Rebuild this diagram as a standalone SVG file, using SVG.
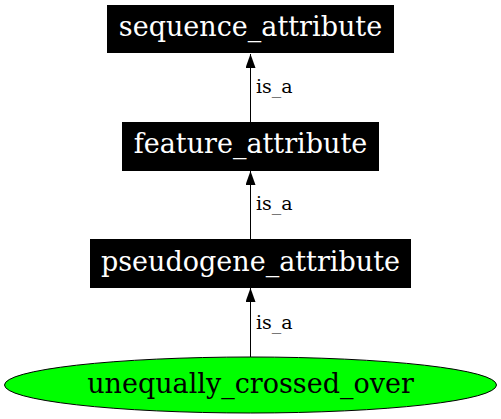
<svg xmlns="http://www.w3.org/2000/svg" width="501" height="419" viewBox="0 0 501 419">
<style>
.box{fill:#000;stroke:#000;stroke-width:1}
.bt{font-family:"DejaVu Serif",serif;font-size:27px;fill:#fff;text-anchor:middle}
.et{font-family:"DejaVu Serif",serif;font-size:27px;fill:#000;text-anchor:middle}
.edge{stroke:#000;stroke-width:1;fill:none}
.lbl{font-family:"DejaVu Serif",serif;font-size:19px;fill:#000}
</style>
<defs>
<marker id="ah" markerWidth="14" markerHeight="10" refX="14" refY="5" orient="auto" markerUnits="userSpaceOnUse">
<polygon points="0,0 14,5 0,10" fill="#000"/>
</marker>
</defs>
<rect width="501" height="419" fill="#fff"/>
<g id="connectors">
<line class="edge" x1="250.5" y1="122" x2="250.5" y2="54" marker-end="url(#ah)"/>
<text class="lbl" x="256" y="93">is_a</text>
<line class="edge" x1="250.5" y1="239" x2="250.5" y2="171" marker-end="url(#ah)"/>
<text class="lbl" x="256" y="210">is_a</text>
<line class="edge" x1="250.5" y1="357" x2="250.5" y2="288" marker-end="url(#ah)"/>
<text class="lbl" x="256" y="329">is_a</text>
</g>
<g id="sequence_attribute">
<rect class="box" x="107.5" y="5.5" width="286" height="47"/>
<text class="bt" x="250.5" y="36">sequence_attribute</text>
</g>
<g id="feature_attribute">
<rect class="box" x="122.5" y="122.5" width="256" height="48"/>
<text class="bt" x="250.5" y="153">feature_attribute</text>
</g>
<g id="pseudogene_attribute">
<rect class="box" x="90.5" y="239.5" width="320" height="48"/>
<text class="bt" x="250.5" y="271">pseudogene_attribute</text>
</g>
<g id="unequally_crossed_over">
<ellipse cx="250.5" cy="385" rx="246" ry="28" fill="#00ff00" stroke="#000"/>
<text class="et" x="250.5" y="393">unequally_crossed_over</text>
</g>
</svg>
